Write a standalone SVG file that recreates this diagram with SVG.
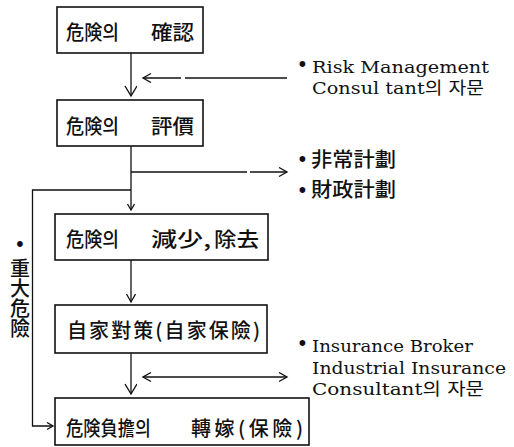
<svg xmlns="http://www.w3.org/2000/svg" width="514" height="447" viewBox="0 0 514 447">
<style>
.box{fill:#fff;stroke:#111;stroke-width:1.6}
.cjk{font-family:"Noto Sans CJK KR","Noto Sans CJK JP",sans-serif;font-size:20px;font-weight:500;fill:#111}
.en{font-family:"DejaVu Serif","Noto Sans CJK KR",serif;font-size:17px;fill:#111}
.bul{font-family:"DejaVu Serif",serif;font-size:20px;fill:#111}
.ln{fill:none;stroke:#111;stroke-width:1.3}
</style>
<defs>
<marker id="ab" markerUnits="userSpaceOnUse" markerWidth="14" markerHeight="14" refX="11" refY="6" orient="auto"><path d="M1,0 L11,6 L1,12" fill="none" stroke="#111" stroke-width="1.4"/></marker>
<marker id="am" markerUnits="userSpaceOnUse" markerWidth="12" markerHeight="12" refX="9" refY="5" orient="auto"><path d="M1,0.5 L9,5 L1,9.5" fill="none" stroke="#111" stroke-width="1.3"/></marker>
<marker id="as" markerUnits="userSpaceOnUse" markerWidth="10" markerHeight="10" refX="7" refY="4" orient="auto"><path d="M1,0.5 L7,4 L1,7.5" fill="none" stroke="#111" stroke-width="1.3"/></marker>
<marker id="amr" markerUnits="userSpaceOnUse" markerWidth="12" markerHeight="12" refX="1" refY="5" orient="auto"><path d="M9,0.5 L1,5 L9,9.5" fill="none" stroke="#111" stroke-width="1.3"/></marker>
</defs>

<g id="connectors">
<line class="ln" x1="131" y1="53" x2="131" y2="96" marker-end="url(#ab)"/>
<line class="ln" x1="287" y1="78" x2="185" y2="78"/>
<line class="ln" x1="181" y1="78" x2="143" y2="78" marker-end="url(#am)"/>
<line class="ln" x1="131" y1="146" x2="131" y2="210" marker-end="url(#as)"/>
<line class="ln" x1="131" y1="172" x2="247" y2="172"/>
<line class="ln" x1="250" y1="172" x2="287" y2="172" marker-end="url(#am)"/>
<polyline class="ln" points="131,190 32.5,190 32.5,426 53,426" marker-end="url(#as)"/>
<line class="ln" x1="131" y1="260" x2="131" y2="302" marker-end="url(#am)"/>
<line class="ln" x1="131" y1="353" x2="131" y2="394" marker-end="url(#ab)"/>
<line class="ln" x1="143" y1="377" x2="287" y2="377" marker-start="url(#amr)" marker-end="url(#am)"/>
</g>

<g id="n1">
<rect class="box" x="57" y="7" width="146" height="46"/>
<text class="cjk" y="40"><tspan x="66" textLength="53" lengthAdjust="spacingAndGlyphs">危険의</tspan> <tspan x="151" textLength="43" lengthAdjust="spacingAndGlyphs">確認</tspan></text>
</g>
<g id="n2">
<rect class="box" x="57" y="100" width="146" height="46"/>
<text class="cjk" y="133.5"><tspan x="66" textLength="53" lengthAdjust="spacingAndGlyphs">危険의</tspan> <tspan x="151" textLength="43" lengthAdjust="spacingAndGlyphs">評價</tspan></text>
</g>
<g id="n3">
<rect class="box" x="55" y="214" width="213" height="46"/>
<text class="cjk" y="247"><tspan x="66" textLength="53" lengthAdjust="spacingAndGlyphs">危険의</tspan> <tspan x="151" textLength="60" lengthAdjust="spacingAndGlyphs">減少,</tspan> <tspan x="214" textLength="45" lengthAdjust="spacingAndGlyphs">除去</tspan></text>
</g>
<g id="n4">
<rect class="box" x="55" y="305" width="212" height="48"/>
<text class="cjk" x="67" y="337.5" textLength="193" lengthAdjust="spacing">自家對策(自家保險)</text>
</g>
<g id="n5">
<rect class="box" x="55" y="398" width="254" height="47"/>
<text class="cjk" y="435.5"><tspan x="66" textLength="85" lengthAdjust="spacingAndGlyphs">危険負擔의</tspan> <tspan x="191" textLength="112" lengthAdjust="spacing">轉嫁(保險)</tspan></text>
</g>

<g id="note-risk">
<text class="bul" x="296.5" y="72">•</text>
<text class="en" x="312" y="72.5" textLength="177" lengthAdjust="spacingAndGlyphs">Risk Management</text>
<text class="en" x="312" y="94" textLength="172" lengthAdjust="spacingAndGlyphs">Consul tant의 자문</text>
</g>
<g id="note-plans">
<text class="bul" x="296.5" y="167">•</text>
<text class="cjk" x="311" y="166.5" font-size="17" textLength="85" lengthAdjust="spacingAndGlyphs">非常計劃</text>
<text class="bul" x="296.5" y="198">•</text>
<text class="cjk" x="311" y="197" font-size="17" textLength="85" lengthAdjust="spacingAndGlyphs">財政計劃</text>
</g>
<g id="note-major">
<text class="bul" x="20" y="252" text-anchor="middle">•</text>
<text class="cjk" x="20" y="258" font-weight="700" writing-mode="vertical-rl" text-orientation="upright">重大危險</text>
</g>
<g id="note-insurance">
<text class="bul" x="296.5" y="351">•</text>
<text class="en" x="312" y="352" textLength="161" lengthAdjust="spacingAndGlyphs">Insurance Broker</text>
<text class="en" x="312" y="373.5" textLength="194" lengthAdjust="spacingAndGlyphs">Industrial Insurance</text>
<text class="en" x="312" y="395" textLength="172" lengthAdjust="spacingAndGlyphs">Consultant의 자문</text>
</g>
</svg>
